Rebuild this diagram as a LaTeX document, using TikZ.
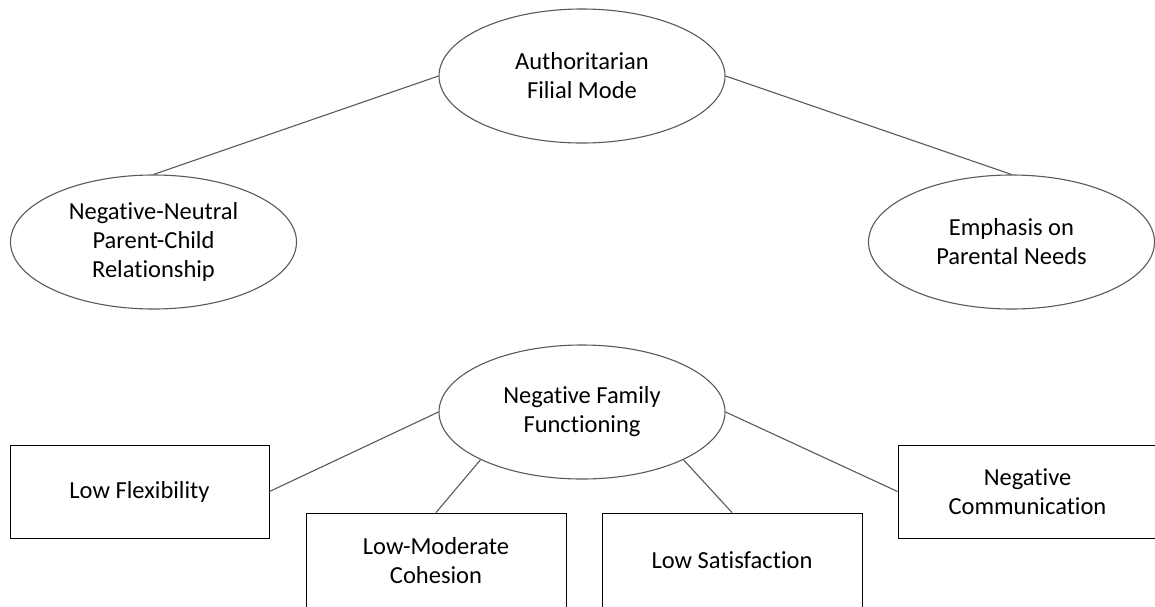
\documentclass[tikz,border=0pt]{standalone}
\usepackage{fontspec}
\setmainfont[Ligatures=NoCommon]{Carlito}
\usetikzlibrary{shapes.geometric}
\definecolor{edgegray}{HTML}{5A5A5A}
\tikzset{
  oval/.style={ellipse, draw=edgegray, line width=1.1pt, fill=white,
    minimum width=286pt, minimum height=134pt, inner sep=0pt,
    align=center, font=\fontsize{24.5}{29}\selectfont},
  panel/.style={rectangle, draw=black, line width=0.9pt, fill=white,
    minimum width=259pt, minimum height=93pt, inner sep=0pt,
    align=center, font=\fontsize{24.5}{29}\selectfont},
  link/.style={draw=edgegray, line width=1.1pt}
}
\begin{document}
\begin{tikzpicture}[x=1pt,y=1pt]
  \useasboundingbox[fill=white] (0,0) rectangle (1155,-606);
  % upper tier
  \node[oval] (afm) at (582,-76) {Authoritarian\\Filial Mode};
  \node[oval] (npc) at (153.5,-242) {Negative-Neutral\\Parent-Child\\Relationship};
  \node[oval] (epn) at (1011.5,-242) {Emphasis on\\Parental Needs};
  % lower tier
  \node[oval] (nff) at (582,-412) {Negative Family\\Functioning};
  \node[panel] (flex) at (139.5,-491.5) {Low Flexibility};
  \node[panel, minimum width=260pt, minimum height=95pt] (coh) at (436,-560.5) {Low-Moderate\\Cohesion};
  \node[panel, minimum width=260pt, minimum height=95pt] (sat) at (732,-560.5) {Low Satisfaction};
  \node[panel] (comm) at (1027.5,-491.5) {Negative\\Communication};
  % connectors
  \draw[link] (afm.west) -- (npc.north);
  \draw[link] (afm.east) -- (epn.north);
  \draw[link] (nff.west) -- (flex.east);
  \draw[link] (nff.south west) -- (coh.north);
  \draw[link] (nff.south east) -- (sat.north);
  \draw[link] (nff.east) -- (comm.west);
\end{tikzpicture}
\end{document}
